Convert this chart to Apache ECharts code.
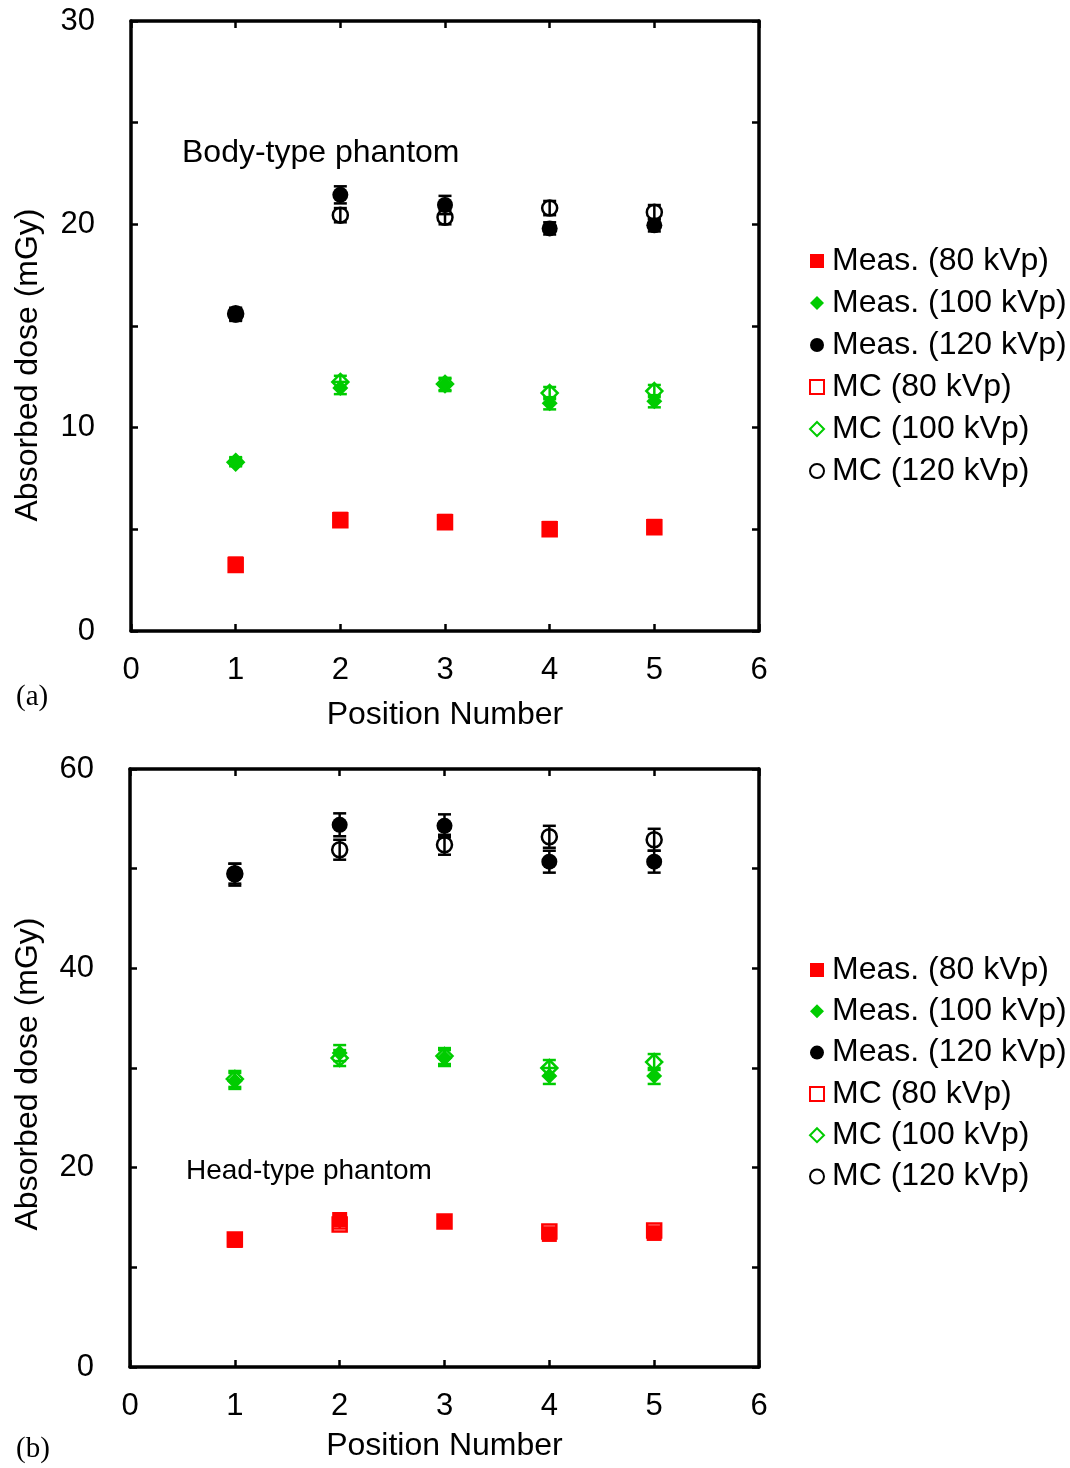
<!DOCTYPE html>
<html>
<head>
<meta charset="utf-8">
<script src="https://cdn.jsdelivr.net/npm/echarts@6/dist/echarts.min.js"></script>
<style>html,body{margin:0;padding:0;background:#fff;}#c{width:1070px;height:1468px;}</style>
</head>
<body>
<div id="c"></div>
<script>
// ---- Data ----
var positions = [1, 2, 3, 4, 5];
var xTicks = [0, 1, 2, 3, 4, 5, 6];
var seriesNames = ['Meas. (80 kVp)', 'Meas. (100 kVp)', 'Meas. (120 kVp)', 'MC (80 kVp)', 'MC (100 kVp)', 'MC (120 kVp)'];

// (a) Body-type phantom
var bodyMeas80  = [3.3, 5.5, 5.4, 5.05, 5.15];
var bodyMeas100 = [8.35, 11.95, 12.1, 11.2, 11.3];
var bodyMeas120 = [15.55, 21.45, 20.95, 19.8, 19.95];
var bodyMC80    = [3.25, 5.45, 5.35, 5.0, 5.1];
var bodyMC100   = [8.3, 12.25, 12.15, 11.7, 11.8];
var bodyMC120   = [15.6, 20.45, 20.35, 20.8, 20.6];
var bodyErrMeas80  = [0.1, 0.1, 0.1, 0.1, 0.1];
var bodyErrMeas100 = [0.2, 0.3, 0.3, 0.3, 0.3];
var bodyErrMeas120 = [0.3, 0.42, 0.45, 0.3, 0.3];
var bodyErrMC80    = [0.1, 0.1, 0.1, 0.1, 0.1];
var bodyErrMC100   = [0.2, 0.3, 0.3, 0.3, 0.3];
var bodyErrMC120   = [0.3, 0.35, 0.35, 0.35, 0.35];

// (b) Head-type phantom
var headMeas80  = [12.7, 14.8, 14.6, 13.3, 13.4];
var headMeas100 = [28.7, 31.5, 31.0, 29.2, 29.2];
var headMeas120 = [49.4, 54.4, 54.3, 50.7, 50.7];
var headMC80    = [12.8, 14.3, 14.6, 13.6, 13.7];
var headMC100   = [28.9, 31.0, 31.2, 30.0, 30.6];
var headMC120   = [49.5, 51.9, 52.4, 53.2, 52.9];
var headErrMeas80  = [0.3, 0.3, 0.3, 0.3, 0.3];
var headErrMeas100 = [0.8, 0.8, 0.8, 0.8, 0.8];
var headErrMeas120 = [1.1, 1.15, 1.15, 1.1, 1.1];
var headErrMC80    = [0.4, 0.4, 0.4, 0.4, 0.4];
var headErrMC100   = [0.8, 0.8, 0.8, 0.8, 0.8];
var headErrMC120   = [1.0, 1.0, 1.0, 1.1, 1.1];

var bodyYTicks = [0, 10, 20, 30];
var headYTicks = [0, 20, 40, 60];

// ---- Styles ----
var RED = '#ff0000', GREEN = '#00cc00', BLACK = '#000000';
var FONT = 'Liberation Sans, Arial, sans-serif';
var FS = 31;

var styles = [
  {symbol: 'rect', color: RED, filled: true, size: 15},
  {symbol: 'diamond', color: GREEN, filled: true, size: 16},
  {symbol: 'circle', color: BLACK, filled: true, size: 16},
  {symbol: 'rect', color: RED, filled: false, size: 14},
  {symbol: 'diamond', color: GREEN, filled: false, size: 16},
  {symbol: 'circle', color: BLACK, filled: false, size: 15}
];

function pts(vals) { return positions.map(function (p, i) { return [p, vals[i]]; }); }
function errPts(vals, errs) { return positions.map(function (p, i) { return [p, vals[i] - errs[i], vals[i] + errs[i]]; }); }

function errRender(color) {
  return function (params, api) {
    var x = api.value(0);
    var a = api.coord([x, api.value(1)]);
    var b = api.coord([x, api.value(2)]);
    var w = 6.5;
    var st = {stroke: color, lineWidth: 2.5};
    return {type: 'group', children: [
      {type: 'line', shape: {x1: a[0], y1: a[1], x2: b[0], y2: b[1]}, style: st},
      {type: 'line', shape: {x1: a[0] - w, y1: a[1], x2: a[0] + w, y2: a[1]}, style: st},
      {type: 'line', shape: {x1: b[0] - w, y1: b[1], x2: b[0] + w, y2: b[1]}, style: st}
    ]};
  };
}

function buildSeries(gi, vals, errs) {
  var out = [];
  var xi = gi * 2, yi = gi * 2;
  for (var k2 = 0; k2 < 6; k2++) {
    var s = styles[k2];
    out.push({
      type: 'scatter', name: seriesNames[k2], xAxisIndex: xi, yAxisIndex: yi,
      z: s.filled ? 2 : 3,
      symbol: s.symbol, symbolSize: s.size,
      itemStyle: s.filled ? {color: s.color, opacity: 1} : {color: 'rgba(255,255,255,0)', borderColor: s.color, borderWidth: 2.5, opacity: 1},
      emphasis: {disabled: true},
      data: pts(vals[k2])
    });
  }
  for (var k = 0; k < 6; k++) {
    out.push({
      type: 'custom', name: seriesNames[k] + ' error', xAxisIndex: xi, yAxisIndex: yi, z: 1,
      itemStyle: {color: styles[k].color},
      renderItem: errRender(styles[k].color), data: errPts(vals[k], errs[k]),
      encode: {x: 0, y: [1, 2]}, silent: true
    });
  }
  return out;
}

function xAx(gi, top, nameGap) {
  return {
    type: 'value', gridIndex: gi, min: 0, max: 6, interval: 1, position: top ? 'top' : 'bottom',
    axisLine: {show: true, onZero: false, lineStyle: {color: BLACK, width: 3.5}},
    axisTick: {show: true, inside: true, length: 7, lineStyle: {color: BLACK, width: 2.5}},
    axisLabel: {show: !top, margin: 24, color: BLACK, fontSize: FS, fontFamily: FONT,
      formatter: function (v) { return xTicks.indexOf(v) >= 0 ? String(v) : ''; }},
    splitLine: {show: false},
    name: top ? '' : 'Position Number', nameLocation: 'middle', nameGap: nameGap || 0,
    nameTextStyle: {color: BLACK, fontSize: 32, fontFamily: FONT}
  };
}
function yAx(gi, right, max, interval, labels) {
  return {
    type: 'value', gridIndex: gi, min: 0, max: max, interval: interval, position: right ? 'right' : 'left',
    axisLine: {show: true, onZero: false, lineStyle: {color: BLACK, width: 3.5}},
    axisTick: {show: true, inside: true, length: 7, lineStyle: {color: BLACK, width: 2.5}},
    axisLabel: {show: !right, margin: 36, color: BLACK, fontSize: FS, fontFamily: FONT,
      formatter: function (v) { return labels.indexOf(v) >= 0 ? String(v) : ''; }},
    splitLine: {show: false}
  };
}

function legendAt(top, gap) {
  return {
    orient: 'vertical', left: 804, top: top, itemWidth: 14, itemHeight: 14, itemGap: gap,
    data: seriesNames.map(function (n) { return {name: n}; }),
    textStyle: {color: BLACK, fontSize: 32, fontFamily: FONT, padding: [0, 0, 0, 3], lineHeight: 31},
    selectedMode: false
  };
}

var chart = echarts.init(document.getElementById('c'), null, {renderer: 'canvas'});
var option = {
  backgroundColor: '#fff',
  animation: false,
  grid: [
    {left: 131, top: 21, width: 628, height: 610, containLabel: false},
    {left: 130, top: 769, width: 629, height: 598, containLabel: false}
  ],
  xAxis: [xAx(0, false, 68), xAx(0, true), xAx(1, false, 63), xAx(1, true)],
  yAxis: [yAx(0, false, 30, 5, bodyYTicks), yAx(0, true, 30, 5, bodyYTicks),
          yAx(1, false, 60, 10, headYTicks), yAx(1, true, 60, 10, headYTicks)],
  legend: [legendAt(240, 10), legendAt(949, 9.3)],
  graphic: [
    {type: 'text', x: 28, y: 365, rotation: Math.PI / 2, style: {text: 'Absorbed dose (mGy)', fill: BLACK, fontSize: 32, fontFamily: FONT, align: 'center', verticalAlign: 'middle'}},
    {type: 'text', x: 28, y: 1074, rotation: Math.PI / 2, style: {text: 'Absorbed dose (mGy)', fill: BLACK, fontSize: 32, fontFamily: FONT, align: 'center', verticalAlign: 'middle'}},
    {type: 'text', left: 182, top: 137, style: {text: 'Body-type phantom', fill: BLACK, fontSize: 32, fontFamily: FONT}},
    {type: 'text', left: 186, top: 1157, style: {text: 'Head-type phantom', fill: BLACK, fontSize: 28, fontFamily: FONT}},
    {type: 'text', left: 16, top: 683, style: {text: '(a)', fill: BLACK, fontSize: 29, fontFamily: 'Liberation Serif, Times New Roman, serif'}},
    {type: 'text', left: 16, top: 1435, style: {text: '(b)', fill: BLACK, fontSize: 29, fontFamily: 'Liberation Serif, Times New Roman, serif'}}
  ],
  series: [].concat(
    buildSeries(0,
      [bodyMeas80, bodyMeas100, bodyMeas120, bodyMC80, bodyMC100, bodyMC120],
      [bodyErrMeas80, bodyErrMeas100, bodyErrMeas120, bodyErrMC80, bodyErrMC100, bodyErrMC120]),
    buildSeries(1,
      [headMeas80, headMeas100, headMeas120, headMC80, headMC100, headMC120],
      [headErrMeas80, headErrMeas100, headErrMeas120, headErrMC80, headErrMC100, headErrMC120])
  )
};
chart.setOption(option);
</script>
</body>
</html>
